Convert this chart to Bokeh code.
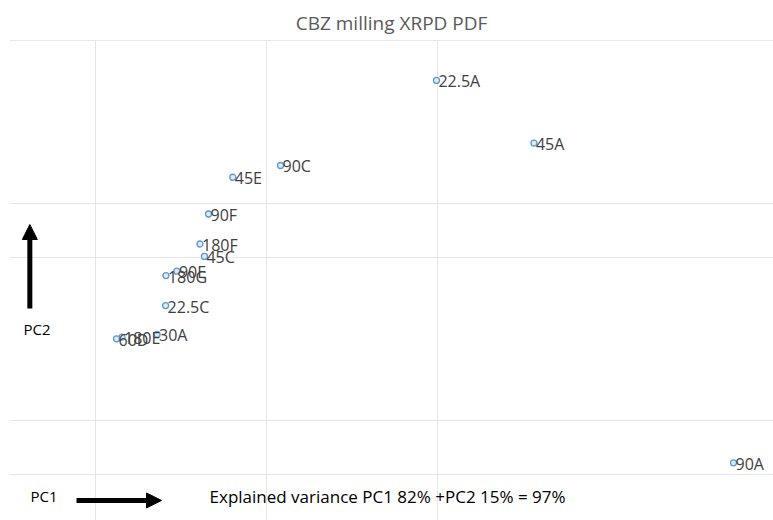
from bokeh.plotting import figure
from bokeh.models import ColumnDataSource, FixedTicker, Label, Arrow, NormalHead, Range1d
from bokeh.core.properties import value
from bokeh.embed import file_html
from bokeh.resources import INLINE

# ---- data (PCA scores) ----
samples = ["22.5A", "45A", "90C", "45E", "90F", "180F", "45C",
           "90E", "180G", "22.5C", "30A", "180E", "60D", "90A"]
pc1 = [-0.006, 0.564, -0.918, -1.197, -1.339, -1.389, -1.363,
       -1.524, -1.588, -1.590, -1.640, -1.845, -1.877, 1.731]
pc2 = [0.814, 0.526, 0.423, 0.369, 0.200, 0.062, 0.005,
       -0.063, -0.083, -0.221, -0.354, -0.366, -0.374, -0.944]

x_grid_ticks = [-2, -1, 0]
y_grid_ticks = [-1, -0.75, 0, 0.25, 1]

title_text = "CBZ milling XRPD PDF"
footer_text = "Explained variance PC1 82% +PC2 15% = 97%"

FONT = "Open Sans"

p = figure(width=773, height=520, output_backend="svg", toolbar_location=None,
           x_range=Range1d(-2.5029, 1.9649), y_range=Range1d(-1.2092, 1.0023),
           x_axis_location=None, y_axis_location=None,
           min_border_left=9, min_border_right=0, min_border_top=39, min_border_bottom=0)
p.outline_line_color = None
p.background_fill_color = "white"
p.border_fill_color = "white"

p.title.text = title_text
p.title.align = "center"
p.title.offset = 4
p.title.text_font = FONT
p.title.text_font_size = "19px"
p.title.text_font_style = "normal"
p.title.text_color = "#595959"
p.title.standoff = 8

p.xgrid.ticker = FixedTicker(ticks=x_grid_ticks)
p.ygrid.ticker = FixedTicker(ticks=y_grid_ticks)
p.grid.grid_line_color = "#e6e6e6"
p.grid.grid_line_width = 1

src = ColumnDataSource(dict(x=pc1, y=pc2, name=samples))
p.scatter("x", "y", source=src, marker="circle", size=6,
          line_color="#5B9BD5", fill_color="#DDEBF7", line_width=1.3)
p.text("x", "y", text="name", source=src, x_offset=2, y_offset=1,
       text_font=value(FONT), text_font_size="16px", text_color="#404040",
       text_align="left", text_baseline="middle")

# axis hints
p.add_layout(Label(x=-2.421, y=-0.330, text="PC2", text_align="left",
                   text_baseline="alphabetic", text_font=FONT, text_font_size="15px",
                   text_color="black"))
p.add_layout(Label(x=-2.380, y=-1.095, text="PC1", text_align="left",
                   text_baseline="alphabetic", text_font=FONT, text_font_size="15px",
                   text_color="black"))
p.add_layout(Label(x=-1.333, y=-1.100, text=footer_text, text_align="left",
                   text_baseline="alphabetic", text_font=FONT, text_font_size="17px",
                   text_color="black"))

p.add_layout(Arrow(end=NormalHead(size=15, fill_color="black", line_color="black"),
                   x_start=-2.384, y_start=-0.2345, x_end=-2.384, y_end=0.1517,
                   line_width=5, line_color="black"))
p.add_layout(Arrow(end=NormalHead(size=15, fill_color="black", line_color="black"),
                   x_start=-2.111, y_start=-1.117, x_end=-1.614, y_end=-1.117,
                   line_width=5, line_color="black"))

open("out.html", "w").write(file_html(p, INLINE))
